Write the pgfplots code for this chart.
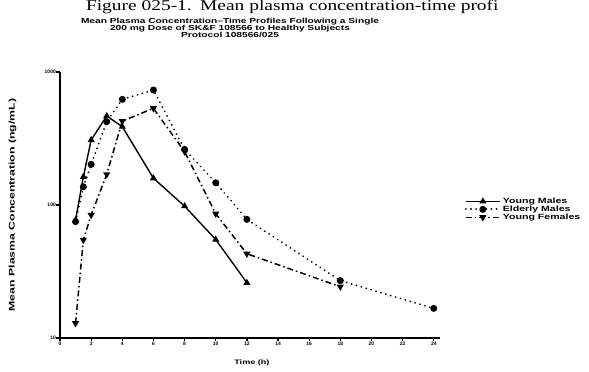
\documentclass[border=0pt]{standalone}
\usepackage{pgfplots}
\pgfplotsset{compat=1.18}
\usepackage{fontspec}
\setmainfont{Liberation Sans}
\newfontfamily\seriffont{Liberation Serif}
\newcommand{\wide}[1]{\scalebox{1.4}[1]{#1}}
\begin{document}
\begin{tikzpicture}
\useasboundingbox (0bp,0bp) rectangle (589bp,372bp);
% caption line at the very top
\node[anchor=base east, inner sep=0, font=\seriffont\fontsize{15}{15}\selectfont] at (192bp,361bp) {\scalebox{1.3}[1]{Figure 025-1.}};
\node[anchor=base west, inner sep=0, font=\seriffont\fontsize{15}{15}\selectfont] at (200bp,361bp) {\scalebox{1.3}[1]{Mean plasma concentration-time profi}};
% chart title
\node[font=\bfseries\fontsize{7.3}{7.5}\selectfont, align=center, inner sep=0] at (230bp,344bp) {\wide{Mean Plasma Concentration--Time Profiles Following a Single}\\[-0.8pt]\wide{200 mg Dose of SK\&F 108566 to Healthy Subjects}\\[-0.8pt]\wide{Protocol 108566/025}};
\begin{axis}[
  at={(60bp,34bp)}, anchor=south west,
  scale only axis, width=380bp, height=266bp,
  ymode=log, ymin=10, ymax=1000, xmin=0, xmax=24.4,
  axis x line*=bottom, axis y line*=left,
  axis line style={line width=1.4pt, -},
  xtick={0,2,...,24},
  xticklabels={0,2,4,6,8,10,12,14,16,18,20,22,24},
  ytick={10,100,1000}, yticklabels={10,100,1000},
  yminorticks=false,
  tick align=outside, major tick length=3.5bp,
  every tick/.style={line width=1.3pt, black},
  tick label style={font=\bfseries\fontsize{5}{5}\selectfont, inner sep=0.5pt},
  xticklabel style={yshift=0bp},
  xlabel={\wide{Time (h)}},
  xlabel style={font=\bfseries\fontsize{6.5}{7}\selectfont, at={(axis description cs:0.505,-0.08)}, anchor=north, inner sep=0pt},
  ylabel={\scalebox{1.5}[1]{Mean Plasma Concentration (ng/mL)}},
  ylabel style={font=\bfseries\fontsize{8.2}{9}\selectfont, at={(axis description cs:-0.125,0.5)}, anchor=center},
  legend style={at={(1.065,0.535)}, anchor=north west, draw=none, fill=none,
    font=\bfseries\fontsize{7.6}{7}\selectfont, row sep=-3pt, inner sep=0pt},
  legend cell align=left,
  legend image code/.code={\draw[mark repeat=2,mark phase=2,#1] plot coordinates {(0cm,0cm) (0.6cm,0cm) (1.2cm,0cm)};},
  clip=false,
]
\addplot[black, line width=1.4pt, mark=triangle*, mark size=2.7bp, mark options={solid}] coordinates {
 (1,77) (1.5,163) (2,308) (3,467) (4,388) (6,159) (8,98) (10,55) (12,26)};
\addlegendentry{\wide{Young Males}}
\addplot[black, line width=1.9pt, dash pattern=on 0.1pt off 5bp, line cap=round, mark=*, mark size=2.5bp, mark options={solid}] coordinates {
 (1,75) (1.5,137) (2,202) (3,423) (4,623) (6,732) (8,262) (10,147) (12,78) (18,27) (24,16.7)};
\addlegendentry{\wide{Elderly Males}}
\addplot[black, line width=1.5pt, dash pattern=on 6bp off 3bp on 1.5bp off 3bp, mark=triangle*, mark size=2.7bp, mark options={solid, rotate=180}] coordinates {
 (1,12.9) (1.5,54.6) (2,84) (3,170) (4,427) (6,533) (8,252) (10,86) (12,43) (18,24.3)};
\addlegendentry{\wide{Young Females}}
\end{axis}
\end{tikzpicture}
\end{document}
